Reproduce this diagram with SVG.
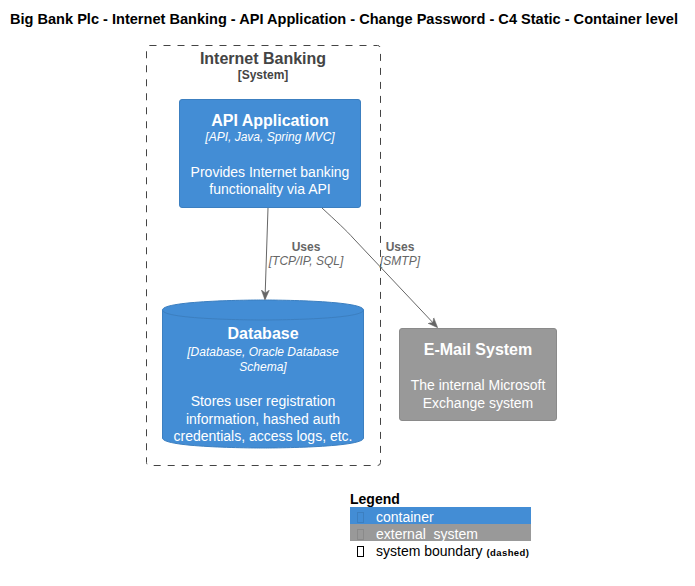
<svg xmlns="http://www.w3.org/2000/svg" width="695" height="586" viewBox="0 0 695 586">
<defs>
<style>
text{font-family:"Liberation Sans",Arial,sans-serif;}
.t{fill:#FFFFFF;text-anchor:middle;}
.b{font-weight:bold;}
.i{font-style:italic;}
.lbl{fill:#666666;font-size:12px;text-anchor:middle;}
.edge{fill:none;stroke:#666666;stroke-width:1;}
.tofu{fill:none;stroke-width:1;}
</style>
<marker id="ah" viewBox="0 0 10 10" refX="9" refY="5" markerWidth="10" markerHeight="10" markerUnits="userSpaceOnUse" orient="auto">
<path d="M0,1 L10,5 L0,9 L3,5 Z" fill="#666666" stroke="#666666" stroke-width="0.5"/>
</marker>
</defs>
<rect width="695" height="586" fill="#FFFFFF"/>
<text x="10" y="24" class="b" font-size="14" fill="#000000" textLength="668" lengthAdjust="spacingAndGlyphs">Big Bank Plc - Internet Banking - API Application - Change Password - C4 Static - Container level</text>

<g id="boundary_internet_banking">
<rect x="146.5" y="45.5" width="234" height="420" rx="3" fill="none" stroke="#444444" stroke-width="1" stroke-dasharray="7,7"/>
<text x="263" y="64" class="b" font-size="16" text-anchor="middle" fill="#444444">Internet Banking</text>
<text x="263" y="79" class="b" font-size="12" text-anchor="middle" fill="#444444">[System]</text>
</g>

<g id="node_api_application">
<rect x="179.5" y="99.5" width="181" height="108" rx="2.5" fill="#438DD5" stroke="#3C7FC0"/>
<text x="270" y="126" class="t b" font-size="16">API Application</text>
<text x="270" y="141" class="t i" font-size="12">[API, Java, Spring MVC]</text>
<text x="270" y="177" class="t" font-size="14">Provides Internet banking</text>
<text x="270" y="194" class="t" font-size="14">functionality via API</text>
</g>

<g id="node_database">
<path d="M162.5,310 C162.5,300 263,300 263,300 C263,300 363.5,300 363.5,310 L363.5,438 C363.5,448 263,448 263,448 C263,448 162.5,448 162.5,438 Z" fill="#438DD5" stroke="#3C7FC0"/>
<path d="M162.5,310 C162.5,320 263,320 263,320 C263,320 363.5,320 363.5,310" fill="none" stroke="#3C7FC0"/>
<text x="263" y="339" class="t b" font-size="16">Database</text>
<text x="263" y="356" class="t i" font-size="12">[Database, Oracle Database</text>
<text x="263" y="371" class="t i" font-size="12">Schema]</text>
<text x="263" y="406" class="t" font-size="14">Stores user registration</text>
<text x="263" y="424" class="t" font-size="14">information, hashed auth</text>
<text x="263" y="441" class="t" font-size="14">credentials, access logs, etc.</text>
</g>

<g id="node_email_system">
<rect x="399.5" y="328.5" width="157" height="92" rx="2.5" fill="#999999" stroke="#8A8A8A"/>
<text x="478" y="355" class="t b" font-size="16">E-Mail System</text>
<text x="478" y="390" class="t" font-size="14">The internal Microsoft</text>
<text x="478" y="408" class="t" font-size="14">Exchange system</text>
</g>

<g id="connectors">
<path class="edge" d="M268,208 L265,299" marker-end="url(#ah)"/>
<text x="306" y="251" class="lbl b">Uses</text>
<text x="306" y="265" class="lbl i">[TCP/IP, SQL]</text>
<path class="edge" d="M322,208 C336,221 346,230 354,239 L437,327" marker-end="url(#ah)"/>
<text x="400" y="251" class="lbl b">Uses</text>
<text x="400" y="265" class="lbl i">[SMTP]</text>
</g>

<g id="legend">
<text x="350" y="504" class="b" font-size="14" fill="#000000">Legend</text>
<rect x="350" y="507" width="181" height="17" fill="#438DD5"/>
<rect class="tofu" x="357.5" y="512.5" width="6" height="10" stroke="#3C7FC0"/>
<text x="376" y="522" font-size="14" fill="#FFFFFF">container</text>
<rect x="350" y="524" width="181" height="17" fill="#999999"/>
<rect class="tofu" x="357.5" y="529.5" width="6" height="10" stroke="#8A8A8A"/>
<text x="376" y="539" font-size="14" fill="#FFFFFF">external_system</text>
<rect class="tofu" x="357.5" y="546.5" width="6" height="10" stroke="#000000"/>
<text x="376" y="556" font-size="14" fill="#000000">system boundary <tspan class="b" font-size="9.5" letter-spacing="0.4">(dashed)</tspan></text>
</g>
</svg>
